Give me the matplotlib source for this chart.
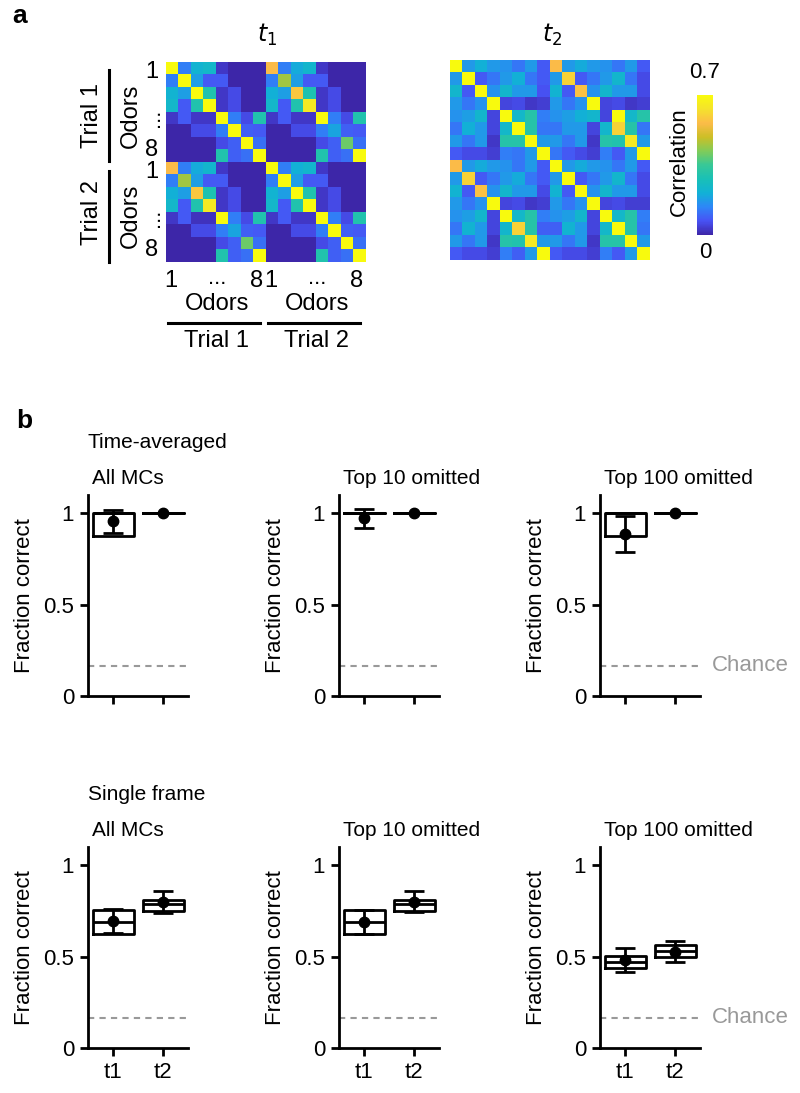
import numpy as np
import matplotlib
matplotlib.use("Agg")
import matplotlib.pyplot as plt
from matplotlib.colors import LinearSegmentedColormap

plt.rcParams['font.family'] = ['Liberation Sans', 'DejaVu Sans']
plt.rcParams['font.size'] = 15

# correlation matrices (16 x 16: trial 1 odors 1-8, trial 2 odors 1-8)
corr_t1 = [
    [0.70, 0.13, 0.22, 0.24, 0.03, 0.00, 0.00, 0.00, 0.56, 0.13, 0.20, 0.23, 0.03, 0.00, 0.00, 0.00],
    [0.13, 0.70, 0.18, 0.08, 0.08, 0.00, 0.00, 0.00, 0.13, 0.45, 0.18, 0.08, 0.08, 0.00, 0.00, 0.00],
    [0.22, 0.18, 0.70, 0.30, 0.03, 0.06, 0.00, 0.00, 0.21, 0.18, 0.58, 0.29, 0.03, 0.06, 0.00, 0.00],
    [0.24, 0.08, 0.30, 0.70, 0.03, 0.06, 0.00, 0.00, 0.24, 0.08, 0.30, 0.65, 0.03, 0.06, 0.00, 0.00],
    [0.03, 0.08, 0.03, 0.03, 0.70, 0.13, 0.06, 0.30, 0.03, 0.08, 0.03, 0.03, 0.70, 0.13, 0.06, 0.30],
    [0.00, 0.00, 0.06, 0.06, 0.13, 0.70, 0.09, 0.08, 0.00, 0.00, 0.06, 0.06, 0.13, 0.19, 0.09, 0.08],
    [0.00, 0.00, 0.00, 0.00, 0.06, 0.09, 0.70, 0.11, 0.00, 0.00, 0.00, 0.00, 0.06, 0.09, 0.40, 0.11],
    [0.00, 0.00, 0.00, 0.00, 0.30, 0.09, 0.11, 0.70, 0.00, 0.00, 0.00, 0.00, 0.30, 0.09, 0.11, 0.70],
    [0.56, 0.13, 0.20, 0.23, 0.03, 0.00, 0.00, 0.00, 0.70, 0.13, 0.21, 0.23, 0.03, 0.00, 0.00, 0.00],
    [0.13, 0.45, 0.18, 0.08, 0.08, 0.00, 0.00, 0.00, 0.13, 0.70, 0.18, 0.08, 0.08, 0.00, 0.00, 0.00],
    [0.21, 0.18, 0.58, 0.29, 0.03, 0.06, 0.00, 0.00, 0.22, 0.18, 0.70, 0.30, 0.03, 0.06, 0.00, 0.00],
    [0.24, 0.08, 0.30, 0.65, 0.03, 0.06, 0.00, 0.00, 0.24, 0.08, 0.30, 0.70, 0.03, 0.06, 0.00, 0.00],
    [0.03, 0.08, 0.02, 0.02, 0.70, 0.13, 0.06, 0.30, 0.03, 0.08, 0.03, 0.03, 0.70, 0.13, 0.06, 0.30],
    [0.00, 0.00, 0.06, 0.06, 0.13, 0.19, 0.09, 0.08, 0.00, 0.00, 0.06, 0.06, 0.13, 0.70, 0.09, 0.08],
    [0.00, 0.00, 0.00, 0.00, 0.06, 0.09, 0.40, 0.11, 0.00, 0.00, 0.00, 0.00, 0.06, 0.09, 0.70, 0.11],
    [0.00, 0.00, 0.00, 0.00, 0.30, 0.09, 0.11, 0.70, 0.00, 0.00, 0.00, 0.00, 0.30, 0.09, 0.11, 0.70],
]

corr_t2 = [
    [0.70, 0.17, 0.21, 0.17, 0.16, 0.12, 0.17, 0.08, 0.56, 0.17, 0.20, 0.17, 0.16, 0.12, 0.17, 0.08],
    [0.17, 0.70, 0.08, 0.12, 0.17, 0.21, 0.12, 0.08, 0.17, 0.60, 0.08, 0.12, 0.17, 0.23, 0.12, 0.06],
    [0.23, 0.08, 0.70, 0.16, 0.23, 0.17, 0.17, 0.07, 0.22, 0.08, 0.57, 0.16, 0.23, 0.17, 0.17, 0.06],
    [0.17, 0.12, 0.16, 0.70, 0.05, 0.06, 0.03, 0.04, 0.17, 0.12, 0.16, 0.70, 0.05, 0.06, 0.03, 0.04],
    [0.16, 0.18, 0.23, 0.05, 0.70, 0.24, 0.31, 0.13, 0.16, 0.18, 0.21, 0.23, 0.05, 0.70, 0.24, 0.31],
    [0.12, 0.21, 0.17, 0.05, 0.24, 0.70, 0.31, 0.12, 0.12, 0.17, 0.17, 0.05, 0.23, 0.60, 0.31, 0.12],
    [0.17, 0.12, 0.17, 0.03, 0.31, 0.31, 0.70, 0.17, 0.17, 0.12, 0.17, 0.03, 0.31, 0.30, 0.65, 0.17],
    [0.08, 0.06, 0.06, 0.04, 0.13, 0.12, 0.17, 0.70, 0.12, 0.08, 0.06, 0.04, 0.13, 0.08, 0.17, 0.70],
    [0.56, 0.17, 0.20, 0.17, 0.16, 0.12, 0.17, 0.08, 0.70, 0.17, 0.20, 0.17, 0.16, 0.12, 0.17, 0.08],
    [0.17, 0.60, 0.08, 0.12, 0.17, 0.20, 0.12, 0.08, 0.17, 0.70, 0.08, 0.12, 0.17, 0.23, 0.12, 0.06],
    [0.22, 0.08, 0.57, 0.16, 0.23, 0.17, 0.17, 0.06, 0.22, 0.08, 0.70, 0.16, 0.23, 0.17, 0.17, 0.06],
    [0.17, 0.12, 0.16, 0.70, 0.05, 0.06, 0.03, 0.04, 0.17, 0.12, 0.16, 0.70, 0.05, 0.06, 0.04, 0.04],
    [0.16, 0.18, 0.23, 0.05, 0.70, 0.24, 0.31, 0.13, 0.16, 0.18, 0.23, 0.05, 0.70, 0.24, 0.31, 0.13],
    [0.12, 0.22, 0.17, 0.05, 0.23, 0.60, 0.31, 0.09, 0.09, 0.22, 0.17, 0.05, 0.24, 0.70, 0.31, 0.12],
    [0.17, 0.12, 0.17, 0.03, 0.31, 0.30, 0.65, 0.17, 0.17, 0.12, 0.17, 0.03, 0.31, 0.31, 0.70, 0.17],
    [0.08, 0.06, 0.06, 0.04, 0.13, 0.09, 0.17, 0.70, 0.08, 0.06, 0.06, 0.04, 0.13, 0.08, 0.17, 0.70],
]

# decoding accuracy: box stats (q1, median, q3) and mean +/- error, for t1 and t2
panel_titles = ["All MCs", "Top 10 omitted", "Top 100 omitted"]
conditions = ["t1", "t2"]
chance = 1 / 6

avg_q1 = [[0.875, 1.0], [1.0, 1.0], [0.875, 1.0]]
avg_med = [[1.0, 1.0], [1.0, 1.0], [1.0, 1.0]]
avg_q3 = [[1.0, 1.0], [1.0, 1.0], [1.0, 1.0]]
avg_mean = [[0.955, 1.0], [0.972, 1.0], [0.885, 1.0]]
avg_err = [[0.063, 0.0], [0.054, 0.0], [0.099, 0.0]]

frame_q1 = [[0.622, 0.750], [0.622, 0.750], [0.438, 0.498]]
frame_med = [[0.690, 0.790], [0.690, 0.790], [0.470, 0.530]]
frame_q3 = [[0.754, 0.812], [0.754, 0.812], [0.502, 0.562]]
frame_mean = [[0.695, 0.798], [0.690, 0.800], [0.482, 0.528]]
frame_err = [[0.065, 0.060], [0.065, 0.058], [0.066, 0.060]]

parula = LinearSegmentedColormap.from_list("parula", [
    (0.00, (0.2422, 0.1504, 0.6603)),
    (0.10, (0.2810, 0.3228, 0.9579)),
    (0.20, (0.1786, 0.5289, 0.9682)),
    (0.30, (0.0689, 0.6948, 0.8394)),
    (0.40, (0.0992, 0.7538, 0.7158)),
    (0.50, (0.2161, 0.7843, 0.5923)),
    (0.60, (0.5044, 0.7993, 0.3480)),
    (0.70, (0.8000, 0.7491, 0.1499)),
    (0.80, (0.9856, 0.7372, 0.2831)),
    (0.90, (0.9598, 0.8870, 0.1726)),
    (1.00, (0.9763, 0.9831, 0.0538)),
])

W, H = 800, 1093
fig = plt.figure(figsize=(W / 100, H / 100), dpi=100)


def box(x, y, w, h):
    # pixel box (left, top, width, height) -> figure fraction
    return [x / W, 1 - (y + h) / H, w / W, h / H]


def txt(x, y, s, **kw):
    kw.setdefault("ha", "center")
    kw.setdefault("va", "center")
    fig.text(x / W, 1 - y / H, s, **kw)


def vline(x, y0, y1):
    fig.add_artist(plt.Line2D([x / W, x / W], [1 - y0 / H, 1 - y1 / H], color="black", lw=2.2))


def hline(y, x0, x1):
    fig.add_artist(plt.Line2D([x0 / W, x1 / W], [1 - y / H, 1 - y / H], color="black", lw=2.2))


# ---- panel a ----
ax1 = fig.add_axes(box(166, 62, 200, 200))
ax1.imshow(np.array(corr_t1), cmap=parula, vmin=0, vmax=0.7, aspect="auto", interpolation="nearest")
ax1.axis("off")
ax2 = fig.add_axes(box(450, 60, 200, 200))
im = ax2.imshow(np.array(corr_t2), cmap=parula, vmin=0, vmax=0.7, aspect="auto", interpolation="nearest")
ax2.axis("off")

cax = fig.add_axes(box(697, 95, 16, 140))
cb = fig.colorbar(im, cax=cax)
cb.set_ticks([])
cb.outline.set_visible(False)
txt(705, 73, "0.7", fontsize=16)
txt(705, 253, "0", fontsize=16)
txt(679, 162, "Correlation", rotation=90, fontsize=16)

txt(20, 16, "a", fontsize=19, fontweight="bold")
txt(267, 35, r"$\mathit{t_1}$", fontsize=17)
txt(552, 35, r"$\mathit{t_2}$", fontsize=17)

# left labels
for yc in (0, 100):
    txt(152, 72 + yc, "1", fontsize=17)
    txt(152, 150 + yc, "8", fontsize=17)
    txt(131, 116 + yc, "Odors", rotation=90, fontsize=17)
    fig.text(143 / W, 1 - (118 + yc) / H, "...", rotation=90, fontsize=16,
             ha="left", va="center")
vline(109, 70, 161)
vline(109, 171, 262)
txt(92, 115, "Trial 1", rotation=90, fontsize=17)
txt(92, 213, "Trial 2", rotation=90, fontsize=17)

# bottom labels
for xc in (0, 100):
    txt(171 + xc, 281, "1", fontsize=17)
    txt(257 + xc, 281, "8", fontsize=17)
    txt(217 + xc, 279, "...", fontsize=16)
    txt(217 + xc, 304, "Odors", fontsize=17)
hline(323, 168, 260)
hline(323, 268, 360)
txt(217, 341, "Trial 1", fontsize=17)
txt(316, 341, "Trial 2", fontsize=17)

# ---- panel b ----
txt(24, 421, "b", fontsize=19, fontweight="bold")
txt(88, 443, "Time-averaged", ha="left", fontsize=15)
txt(88, 795, "Single frame", ha="left", fontsize=15)

lefts = [88, 339, 600]
rows = [
    (495, avg_q1, avg_med, avg_q3, avg_mean, avg_err),
    (847, frame_q1, frame_med, frame_q3, frame_mean, frame_err),
]
for top, q1s, meds, q3s, means, errs in rows:
    for i, left in enumerate(lefts):
        ax = fig.add_axes(box(left, top, 100, 201))
        stats = []
        for j in range(2):
            stats.append(dict(q1=q1s[i][j], med=meds[i][j], q3=q3s[i][j],
                              whislo=q1s[i][j], whishi=q3s[i][j], fliers=[]))
        ax.bxp(stats, positions=[1, 2], widths=0.82, showcaps=False, showfliers=False,
               boxprops=dict(color="black", lw=2),
               medianprops=dict(color="black", lw=2),
               whiskerprops=dict(color="black", lw=2))
        ax.errorbar([1, 2], means[i], yerr=errs[i], fmt="o", color="black",
                    ms=7.5, capsize=7.5, capthick=2, elinewidth=2)
        ax.plot([0.5, 2.5], [chance, chance], ls=(0, (3, 2.5)), color="#999999", lw=1.5)
        ax.set_xlim(0.5, 2.5)
        ax.set_ylim(0, 1.1)
        ax.set_yticks([0, 0.5, 1])
        ax.set_yticklabels(["0", "0.5", "1"])
        ax.set_xticks([1, 2])
        ax.set_xticklabels(conditions if top == 847 else ["", ""])
        ax.spines[["top", "right"]].set_visible(False)
        ax.spines[["left", "bottom"]].set_linewidth(2)
        ax.tick_params(width=2, length=6, labelsize=16, pad=4)
        ax.set_ylabel("Fraction correct", fontsize=16, labelpad=6)
        ax.set_title(panel_titles[i], loc="left", fontsize=15, pad=8, x=0.04)
        if i == 2:
            ax.text(2.74, chance, "Chance", color="#999999", fontsize=16, va="center", ha="left")

fig.savefig("out.png", dpi=100)
